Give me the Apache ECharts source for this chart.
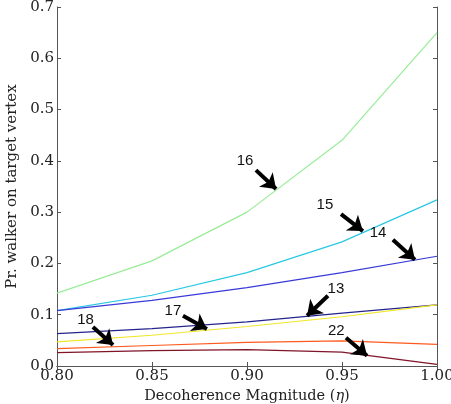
<!DOCTYPE html>
<html>
<head>
<meta charset="utf-8">
<style>
  html, body { margin: 0; padding: 0; background: #fff; }
  #chart { width: 451px; height: 404px; }
</style>
<script src="https://cdn.jsdelivr.net/npm/echarts@6/dist/echarts.min.js"></script>
</head>
<body>
<div id="chart"></div>
<script>
// decoherence magnitude samples
const etas = [0.80, 0.85, 0.90, 0.95, 1.00]

// probability of walker on target vertex, one array per curve
const p16 = [0.142, 0.205, 0.300, 0.440, 0.650]
const p15 = [0.108, 0.138, 0.182, 0.242, 0.324]
const p14 = [0.108, 0.128, 0.153, 0.182, 0.214]
const p13 = [0.063, 0.073, 0.086, 0.103, 0.119]
const p17 = [0.047, 0.060, 0.077, 0.096, 0.119]
const p18 = [0.034, 0.040, 0.046, 0.049, 0.042]
const p22 = [0.026, 0.030, 0.032, 0.027, 0.003]

const curveNames = ['16', '15', '14', '13', '17', '18', '22']
const curveValues = [p16, p15, p14, p13, p17, p18, p22]
const curveColors = ['#98ec98', '#28c8e4', '#3a3ad8', '#24248c', '#f2e628', '#ff5a1e', '#801428']

// arrow annotations: [label, tail, tip, text position] in data coords
const notes = [
  ['16', [0.9047, 0.382], [0.9153, 0.345], [0.899, 0.400]],
  ['15', [0.9495, 0.296], [0.9610, 0.263], [0.941, 0.314]],
  ['14', [0.9768, 0.246], [0.9884, 0.207], [0.969, 0.260]],
  ['13', [0.9426, 0.137], [0.9316, 0.098], [0.9468, 0.150]],
  ['17', [0.8663, 0.098], [0.8789, 0.072], [0.861, 0.107]],
  ['18', [0.8189, 0.076], [0.8295, 0.041], [0.815, 0.089]],
  ['22', [0.9521, 0.055], [0.9632, 0.020], [0.947, 0.069]]
]

const chart = echarts.init(document.getElementById('chart'))

const serif = 'DejaVu Serif'

const series = curveNames.map((name, i) => ({
  name: name,
  type: 'line',
  data: etas.map((x, j) => [x, curveValues[i][j]]),
  showSymbol: false,
  lineStyle: { color: curveColors[i], width: 1.2 },
  z: 2
}))

// arrows + their numbers
series.push({
  name: 'arrows',
  type: 'line',
  data: [],
  markLine: {
    silent: true,
    symbol: ['none', 'arrow'],
    symbolSize: [15, 14],
    label: { show: false },
    lineStyle: { color: '#000', width: 4, type: 'solid' },
    data: notes.map(n => [{ coord: n[1] }, { coord: n[2] }])
  },
  markPoint: {
    silent: true,
    symbol: 'circle',
    symbolSize: 0,
    label: {
      show: true,
      color: '#111',
      fontFamily: 'Liberation Sans',
      fontSize: 15,
      formatter: p => p.name
    },
    data: notes.map(n => ({ name: n[0], coord: n[3] }))
  },
  z: 5
})

const option = {
  animation: false,
  backgroundColor: '#fff',
  grid: { left: 57, right: 14, top: 7, bottom: 38, outerBoundsMode: 'none' },
  xAxis: [
    {
      type: 'value',
      min: 0.8,
      max: 1.0,
      interval: 0.05,
      name: 'Decoherence Magnitude ({i|η})',
      nameLocation: 'middle',
      nameGap: 17,
      nameTextStyle: {
        fontFamily: serif,
        fontSize: 14.5,
        color: '#222',
        rich: { i: { fontFamily: serif, fontStyle: 'italic', fontSize: 14.5, color: '#222' } }
      },
      axisLine: { lineStyle: { color: '#555', width: 1 } },
      axisTick: { inside: true, length: 4, lineStyle: { color: '#555' } },
      axisLabel: {
        fontFamily: serif,
        fontSize: 15,
        color: '#222',
        margin: 3,
        formatter: v => v.toFixed(2)
      },
      splitLine: { show: false }
    },
    {
      type: 'value',
      position: 'top',
      min: 0.8,
      max: 1.0,
      interval: 0.05,
      axisLine: { lineStyle: { color: '#555', width: 1 } },
      axisTick: { inside: true, length: 4, lineStyle: { color: '#555' } },
      axisLabel: { show: false },
      splitLine: { show: false }
    }
  ],
  yAxis: [
    {
      type: 'value',
      min: 0,
      max: 0.7,
      interval: 0.1,
      name: 'Pr. walker on target vertex',
      nameLocation: 'middle',
      nameGap: 23,
      nameTextStyle: { fontFamily: serif, fontSize: 15, color: '#222' },
      axisLine: { show: true, lineStyle: { color: '#555', width: 1 } },
      axisTick: { show: true, inside: true, length: 4, lineStyle: { color: '#555' } },
      axisLabel: {
        fontFamily: serif,
        fontSize: 15,
        color: '#222',
        margin: 3,
        formatter: v => v.toFixed(1)
      },
      splitLine: { show: false }
    },
    {
      type: 'value',
      position: 'right',
      min: 0,
      max: 0.7,
      interval: 0.1,
      axisLine: { show: true, lineStyle: { color: '#555', width: 1 } },
      axisTick: { show: true, inside: true, length: 4, lineStyle: { color: '#555' } },
      axisLabel: { show: false },
      splitLine: { show: false }
    }
  ],
  series: series
}

chart.setOption(option)
</script>
</body>
</html>
